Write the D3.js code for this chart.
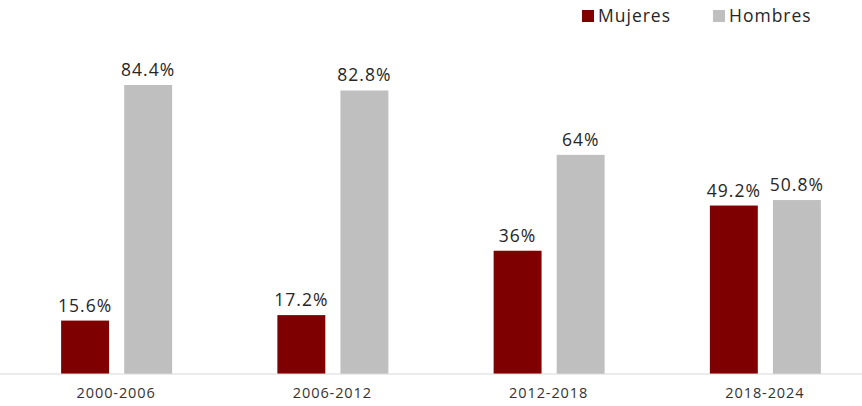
<!DOCTYPE html>
<html>
<head>
<meta charset="utf-8">
<script src="https://cdn.jsdelivr.net/npm/d3@7"></script>
<style>
  body { margin: 0; background: #fff; }
  text { font-family: "Open Sans", sans-serif; }
</style>
</head>
<body>
<div id="chart"></div>
<script>
// data
const periods = ["2000-2006", "2006-2012", "2012-2018", "2018-2024"];
const mujeres = [15.6, 17.2, 36, 49.2];
const hombres = [84.4, 82.8, 64, 50.8];
const seriesNames = ["Mujeres", "Hombres"];
const seriesColors = ["#7f0000", "#bfbfbf"];

const width = 862, height = 406;
const baseY = 374;

const svg = d3.select("#chart").append("svg")
    .attr("width", width)
    .attr("height", height);

// x: one band per period, two bars inside
const x = d3.scaleBand()
    .domain(periods)
    .range([8, 873])
    .paddingInner(0)
    .paddingOuter(0);

const xInner = d3.scaleBand()
    .domain(seriesNames)
    .range([x.bandwidth() / 2 - 55, x.bandwidth() / 2 + 56])
    .paddingInner(0.24);

const y = d3.scaleLinear()
    .domain([0, 100])
    .range([baseY, baseY - 342.4]);

const rows = periods.map((p, i) => ({period: p, values: [mujeres[i], hombres[i]]}));

const groups = svg.selectAll("g.grp")
    .data(rows)
    .enter()
    .append("g")
    .attr("class", "grp")
    .attr("transform", d => `translate(${x(d.period)},0)`);

groups.selectAll("rect")
    .data(d => d.values.map((v, j) => ({name: seriesNames[j], v: v, j: j})))
    .enter()
    .append("rect")
    .attr("x", d => xInner(d.name))
    .attr("width", xInner.bandwidth())
    .attr("y", d => y(d.v))
    .attr("height", d => baseY - y(d.v))
    .attr("fill", d => seriesColors[d.j]);

groups.selectAll("text.val")
    .data(d => d.values.map((v, j) => ({name: seriesNames[j], v: v})))
    .enter()
    .append("text")
    .attr("class", "val")
    .attr("x", d => xInner(d.name) + xInner.bandwidth() / 2)
    .attr("y", d => y(d.v) - 9)
    .attr("text-anchor", "middle")
    .attr("font-size", 17.5)
    .attr("letter-spacing", 1)
    .attr("fill", "#262626")
    .text(d => d.v + "%");

// x axis
const axisG = svg.append("g")
    .attr("transform", `translate(0,${baseY})`)
    .call(d3.axisBottom(x).tickSize(0).tickPadding(14));
axisG.select(".domain").attr("stroke", "#d9d9d9").attr("d", `M0,0H${width}`);
axisG.selectAll("text")
    .attr("font-size", 14.5)
    .attr("letter-spacing", 0.9)
    .attr("fill", "#333")
    .style("font-family", "'Open Sans', sans-serif");

// legend
const legend = svg.append("g");
const legX = [582, 713];
seriesNames.forEach((n, i) => {
    legend.append("rect")
        .attr("x", legX[i])
        .attr("y", 10)
        .attr("width", 12)
        .attr("height", 12)
        .attr("fill", seriesColors[i]);
    legend.append("text")
        .attr("x", legX[i] + 16)
        .attr("y", 22)
        .attr("font-size", 17.5)
        .attr("letter-spacing", 1)
        .attr("fill", "#262626")
        .text(n);
});
</script>
</body>
</html>
